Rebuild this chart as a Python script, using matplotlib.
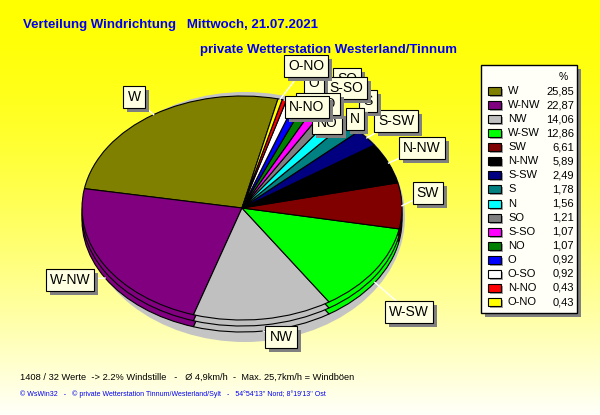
import numpy as np
import matplotlib
matplotlib.use("Agg")
import matplotlib.pyplot as plt
from matplotlib.patches import Rectangle, Ellipse

# ---- data ----
directions = ["W", "W-NW", "NW", "W-SW", "SW", "N-NW", "S-SW", "S", "N",
              "SO", "S-SO", "NO", "O", "O-SO", "N-NO", "O-NO"]
percent = [25.85, 22.87, 14.06, 12.86, 6.61, 5.89, 2.49, 1.78, 1.56,
           1.21, 1.07, 1.07, 0.92, 0.92, 0.43, 0.43]
percent_labels = ["25,85", "22,87", "14,06", "12,86", "6,61", "5,89", "2,49",
                  "1,78", "1,56", "1,21", "1,07", "1,07", "0,92", "0,92",
                  "0,43", "0,43"]
title1 = "Verteilung Windrichtung   Mittwoch, 21.07.2021"
title2 = "private Wetterstation Westerland/Tinnum"
info = "1408 / 32 Werte  -> 2.2% Windstille   -   \u00d8 4,9km/h  -  Max. 25,7km/h = Windb\u00f6en"
credit = "\u00a9 WsWin32   -   \u00a9 private Wetterstation Tinnum/Westerland/Sylt   -   54\u00b054'13'' Nord; 8\u00b019'13'' Ost"

# ---- styles / layout ----
colors = ["#808000", "#800080", "#C0C0C0", "#00FF00", "#800000", "#000000",
          "#000080", "#008080", "#00FFFF", "#808080", "#FF00FF", "#008000",
          "#0000FF", "#FFFFFF", "#FF0000", "#FFFF00"]
label_pos = [(134, 97), (70, 280), (281, 337), (409, 312), (428, 193),
             (422, 148), (396, 121), (368, 101), (355, 119), (347, 79),
             (346, 88), (327, 123), (314, 83), (318, 104), (307, 107),
             (306, 66)]

W, H = 600, 415
cx, cy, rx, ry = 242, 208, 160, 112
depth = 12
start = 77

plt.rcParams['font.family'] = ['Liberation Sans', 'DejaVu Sans']
fig = plt.figure(figsize=(6, 4.15), dpi=100)

# background gradient (vertical: yellow -> almost white)
bg = fig.add_axes([0, 0, 1, 1])
yy = np.linspace(0, 1, 300)[:, None] * np.ones((1, 4))
img = np.zeros((300, 4, 3))
img[..., 0] = 1.0
img[..., 1] = 1.0
img[..., 2] = 0.98 * yy ** 1.5
bg.imshow(img, extent=[0, W, H, 0], aspect='auto', interpolation='bilinear')
bg.set_xlim(0, W)
bg.set_ylim(H, 0)
bg.axis('off')

# shadow ellipse
bg.add_patch(Ellipse((cx + 3, cy + 9), 2 * rx, 2 * 125, facecolor='#C4C4C4',
                     edgecolor='none', zorder=2))

# pie axes
pax = fig.add_axes([(cx - rx) / W, (H - (cy + ry)) / H, 2 * rx / W, 2 * ry / H])
pax.patch.set_alpha(0)
for off in (depth, depth / 2, 0):
    pax.pie(percent, colors=colors, startangle=start, counterclock=True,
            radius=1, center=(0, -off / ry),
            wedgeprops=dict(edgecolor='black', linewidth=0.8))
pax.set_aspect('auto')
pax.set_xlim(-1, 1)
pax.set_ylim(-1, 1)
pax.axis('off')

# overlay for labels / legend / text
ov = fig.add_axes([0, 0, 1, 1])
ov.patch.set_alpha(0)
ov.set_xlim(0, W)
ov.set_ylim(H, 0)
ov.axis('off')

cum = np.cumsum([0] + percent)
total = cum[-1]
label_texts = []
for i, (name, (lx, ly)) in enumerate(zip(directions, label_pos)):
    mid = np.deg2rad(start + 360 * (cum[i] + cum[i + 1]) / 2 / total)
    px = cx + rx * np.cos(mid)
    py = cy - ry * np.sin(mid)
    if np.sin(mid) < 0:
        py += depth
    ov.plot([px, lx], [py, ly], color='white', lw=1, zorder=5)
    z = 10 + 2 * i
    t = ov.text(lx, ly, name, fontsize=10, ha='center', va='center',
                color='black', zorder=z + 1,
                bbox=dict(boxstyle='square,pad=0.3', facecolor='#FFFFE1',
                          edgecolor='black', linewidth=0.8))
    label_texts.append((t, z))

# shadows for label boxes (rectangles sized from the drawn boxes)
fig.canvas.draw()
inv = ov.transData.inverted()
for t, z in label_texts:
    ext = t.get_bbox_patch().get_window_extent()
    (x0, y0), (x1, y1) = inv.transform([[ext.x0, ext.y0], [ext.x1, ext.y1]])
    ov.add_patch(Rectangle((min(x0, x1) + 4, min(y0, y1) + 4), abs(x1 - x0),
                           abs(y1 - y0), facecolor='#808080', edgecolor='none',
                           zorder=z))

# titles
ov.text(23, 25, title1, fontsize=9.5, fontweight='bold', color='#0000F0',
        ha='left', va='center')
ov.text(200, 50, title2, fontsize=9.5, fontweight='bold', color='#0000F0',
        ha='left', va='center')
ov.text(20, 377, info, fontsize=6.7, color='black', ha='left', va='center')
ov.text(20, 394, credit, fontsize=5.0, color='#0000F0', ha='left', va='center')

# legend
lx0, ly0, lx1, ly1 = 481, 65, 577, 313
ov.add_patch(Rectangle((lx0 + 4, ly0 + 4), lx1 - lx0, ly1 - ly0,
                       facecolor='#808080', edgecolor='none', zorder=50))
ov.add_patch(Rectangle((lx0, ly0), lx1 - lx0, ly1 - ly0,
                       facecolor='#FFFFF8', edgecolor='black', lw=1, zorder=51))
ov.text(563, 77, "%", fontsize=7.5, ha='center', va='center', zorder=52)
for i, (name, val, col) in enumerate(zip(directions, percent_labels, colors)):
    y = 91 + i * 14.07
    ov.add_patch(Rectangle((490, y - 2), 13, 8, facecolor='#A0A0A0',
                           edgecolor='none', zorder=52))
    ov.add_patch(Rectangle((488, y - 4), 13, 8, facecolor=col,
                           edgecolor='black', lw=0.8, zorder=53))
    ov.text(508, y, name, fontsize=8, ha='left', va='center', zorder=53)
    ov.text(574, y, val, fontsize=8, ha='right', va='center', zorder=53)

fig.savefig("out.png", dpi=100)
